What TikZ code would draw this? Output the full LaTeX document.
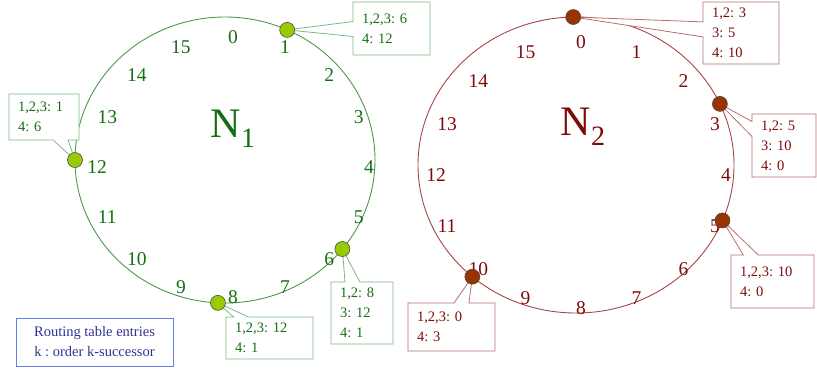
\documentclass[tikz,border=0pt]{standalone}
\usepackage{fontspec}
\setmainfont{Liberation Serif}
\usetikzlibrary{shapes.callouts, positioning, calc}
\frenchspacing

\definecolor{gline}{RGB}{76,153,76}
\definecolor{gtext}{RGB}{20,110,20}
\definecolor{gbox}{RGB}{125,185,125}
\definecolor{gdot}{RGB}{153,204,0}
\definecolor{rline}{RGB}{165,70,70}
\definecolor{rtext}{RGB}{128,10,10}
\definecolor{rbox}{RGB}{185,110,110}
\definecolor{rdot}{RGB}{153,51,0}
\definecolor{kbox}{RGB}{105,125,230}
\definecolor{ktext}{RGB}{50,50,150}

\begin{document}
\begin{tikzpicture}[
        x=1pt, y=-1pt,
        ring/.style={draw=#1, line width=0.9pt},
        tick/.style={text=#1, font=\fontsize{19.5}{19.5}\selectfont, inner sep=0pt},
        title/.style={text=#1, font=\fontsize{42}{42}\selectfont, inner sep=0pt},
        peer/.style={circle, draw=black!70, fill=#1, minimum size=15pt, inner sep=0pt, line width=0.6pt},
        entry/.style={rectangle callout, draw=#1box, text=#1text, fill=white, line width=0.8pt, align=left, font=\fontsize{14.5}{20}\selectfont, inner xsep=9pt, inner ysep=3pt, callout pointer width=15pt},
        legend/.style={rectangle, draw=kbox, text=ktext, line width=0.9pt, align=center, font=\fontsize{14.5}{20}\selectfont}
    ]
        \useasboundingbox (0,0) rectangle (817,373);

        % Ring N1 (Left)
        \coordinate (c1) at (225,160);
        \coordinate (m1) at (233,167);
        \draw[ring=gline] (c1) ellipse [x radius=150, y radius=143];
        \foreach \k [evaluate=\k as \a using -90+22.5*\k] in {0,...,15}
            \node[tick=gtext] (u\k) at ($(m1)+(\a:136 and 130)$) {\k};
        \node[title=gtext] (n1) at (233,129) {N\raisebox{-10pt}{\fontsize{28}{28}\selectfont 1}};

        % Ring N2 (Right)
        \coordinate (c2) at (576,165);
        \coordinate (m2) at (581,175);
        \draw[ring=rline] (c2) ellipse [x radius=158, y radius=148];
        \foreach \k [evaluate=\k as \a using -90+22.5*\k] in {0,...,15}
            \node[tick=rtext] (v\k) at ($(m2)+(\a:145 and 133)$) {\k};
        \node[title=rtext] (n2) at (583,127) {N\raisebox{-10pt}{\fontsize{28}{28}\selectfont 2}};

        % Peer positions on the rings
        \coordinate (a1) at ($(c1)+(-65.5:150 and 143)$);
        \coordinate (a6) at ($(c1)+(38.5:150 and 143)$);
        \coordinate (a8) at ($(c1)+(92.7:150 and 143)$);
        \coordinate (a12) at ($(c1)+(180:150 and 143)$);
        \coordinate (b0) at ($(c2)+(-91:158 and 148)$);
        \coordinate (b3) at ($(c2)+(-24.4:158 and 148)$);
        \coordinate (b5) at ($(c2)+(22:158 and 148)$);
        \coordinate (b10) at ($(c2)+(131:158 and 148)$);

        % Routing tables: N1
        \node[entry=g, text width=59pt, minimum height=53pt, callout absolute pointer={(a1)}] (t1) at (391.5,28.5) {1,2,3: 6\\4: 12};
        \node[entry=g, text width=52pt, minimum height=46pt, callout absolute pointer={(a12)}] (t12) at (44,117) {1,2,3: 1\\4: 6};
        \node[entry=g, text width=44pt, minimum height=62pt, callout absolute pointer={(a6)}] (t6) at (362,313) {1,2: 8\\3: 12\\4: 1};
        \node[entry=g, text width=69pt, minimum height=42pt, callout absolute pointer={(a8)}] (t8) at (269.5,338) {1,2,3: 12\\4: 1};

        % Routing tables: N2
        \node[entry=r, text width=58pt, minimum height=62pt, callout absolute pointer={(b0)}] (s0) at (741,33) {1,2: 3\\3: 5\\4: 10};
        \node[entry=r, text width=46pt, minimum height=63pt, callout absolute pointer={(b3)}] (s3) at (784,145.5) {1,2: 5\\3: 10\\4: 0};
        \node[entry=r, text width=65pt, minimum height=53pt, callout absolute pointer={(b5)}] (s5) at (772.5,281.5) {1,2,3: 10\\4: 0};
        \node[entry=r, text width=69pt, minimum height=48pt, callout absolute pointer={(b10)}] (s10) at (451.5,327) {1,2,3: 0\\4: 3};

        % Peers
        \foreach \p in {a1,a6,a8,a12}
            \node[peer=gdot] (p-\p) at (\p) {};
        \foreach \p in {b0,b3,b5,b10}
            \node[peer=rdot] (p-\p) at (\p) {};

        % Legend
        \node[legend, minimum width=157pt, minimum height=48pt] (key) at (94.5,342) {Routing table entries\\k : order k-successor};

    \end{tikzpicture}
\end{document}
